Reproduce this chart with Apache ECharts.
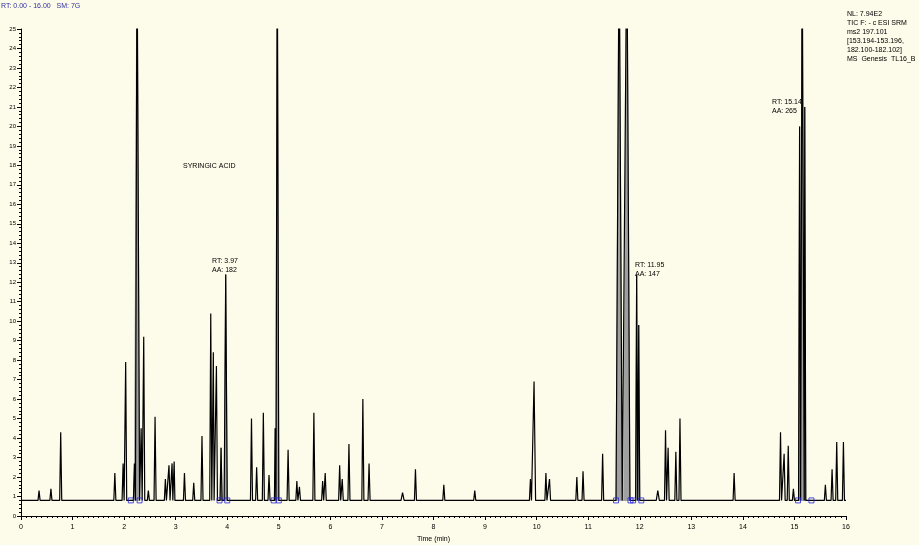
<!DOCTYPE html><html><head><meta charset="utf-8">
<script src="https://cdn.jsdelivr.net/npm/echarts@6/dist/echarts.min.js"></script>
<style>html,body{margin:0;background:#fdfbe9}#c{width:919px;height:545px}</style></head><body><div id="c"></div>
<script>
const baseline = 0.8;
// peak apex: [time (min), relative abundance, half-width (min)]
const peaks = [
[0.35,1.3,0.02],[0.58,1.4,0.02],[0.77,4.3,0.02],[1.82,2.2,0.02],[1.98,2.7,0.02],[2.03,7.9,0.02],
[2.2,2.7,0.02],[2.25,30,0.05],[2.33,4.5,0.02],[2.38,9.2,0.02],[2.47,1.3,0.02],[2.6,5.1,0.02],
[2.8,1.9,0.02],[2.87,2.6,0.02],[2.93,2.7,0.015],[2.97,2.8,0.015],[3.17,2.2,0.02],[3.35,1.7,0.02],
[3.51,4.1,0.02],[3.68,10.4,0.02],[3.73,8.4,0.015],[3.79,7.7,0.02],[3.88,3.5,0.02],[3.97,12.4,0.03],
[4.47,5.0,0.02],[4.57,2.5,0.02],[4.7,5.3,0.02],[4.81,2.1,0.02],[4.93,4.5,0.015],[4.97,30,0.03],
[5.18,3.4,0.02],[5.35,1.8,0.02],[5.4,1.5,0.02],[5.68,5.3,0.02],[5.85,1.8,0.02],[5.9,2.2,0.02],
[6.18,2.6,0.02],[6.23,1.9,0.02],[6.36,3.7,0.02],[6.63,6.0,0.02],[6.75,2.7,0.02],[7.4,1.2,0.03],
[7.65,2.4,0.02],[8.2,1.6,0.02],[8.8,1.3,0.02],[9.88,1.9,0.02],[9.95,6.9,0.03],[10.18,2.2,0.02],
[10.25,1.9,0.02],[10.78,2.0,0.02],[10.9,2.3,0.02],[11.28,3.2,0.02],[11.6,30,0.06],
[11.75,30,0.06],[11.94,12.4,0.02],[11.98,9.8,0.02],[12.35,1.3,0.03],[12.5,4.4,0.02],[12.55,3.5,0.02],
[12.7,3.3,0.02],[12.78,5.0,0.02],[13.83,2.2,0.02],[14.73,4.3,0.02],[14.8,3.2,0.02],[14.88,3.6,0.02],
[14.98,1.4,0.02],[15.1,20.0,0.02],[15.15,30,0.04],[15.2,21.0,0.02],[15.6,1.6,0.02],[15.73,2.4,0.02],
[15.82,3.8,0.02],[15.95,3.8,0.02]
];
// integrated (shaded) windows [start, end]
const integrated = [[2.13,2.3],[3.85,4.0],[4.9,5.0],[11.54,11.82],[11.87,12.03],[15.07,15.33]];
const xTicks = [0,1,2,3,4,5,6,7,8,9,10,11,12,13,14,15,16];

function peakPts(list){
  const pts=[];
  list.forEach(p=>{pts.push([p[0]-p[2],baseline]);pts.push([p[0],p[1]]);pts.push([p[0]+p[2],baseline]);});
  return pts;
}
const sorted = peaks.slice().sort((a,b)=>a[0]-b[0]);
const trace = [[0,baseline]].concat(peakPts(sorted)).concat([[16,baseline]]);
const shadedPolys = integrated.map(w=>{
  const inW = sorted.filter(p=>p[0]>=w[0]&&p[0]<=w[1]);
  return [[w[0],baseline]].concat(peakPts(inW)).concat([[w[1],baseline]]);
});
const markers=[];integrated.forEach(w=>{markers.push([w[0],baseline]);markers.push([w[1],baseline]);});

const chart = echarts.init(document.getElementById('c'));
const tf='Liberation Sans';
chart.setOption({
  backgroundColor:'#fdfbe9',
  animation:false,
  grid:{left:21,right:73,top:29,bottom:29,outerBoundsMode:'none',containLabel:false},
  xAxis:{type:'value',min:0,max:16,interval:1,
    axisLine:{lineStyle:{color:'#000'}},axisTick:{lineStyle:{color:'#000'},length:4},
    minorTick:{show:true,splitNumber:10,length:2,lineStyle:{color:'#000'}},
    splitLine:{show:false},axisLabel:{fontSize:7,color:'#000',fontFamily:tf,
      formatter:v=>xTicks.includes(v)?String(v):''},
    name:'Time (min)',nameLocation:'middle',nameGap:18,nameTextStyle:{fontSize:7,color:'#000',fontFamily:tf}},
  yAxis:{type:'value',min:0,max:25,interval:1,
    axisLine:{show:true,lineStyle:{color:'#000'}},axisTick:{show:true,lineStyle:{color:'#000'},length:4},
    minorTick:{show:true,splitNumber:5,length:2,lineStyle:{color:'#000'}},
    splitLine:{show:false},axisLabel:{fontSize:6,color:'#000',fontFamily:tf,margin:5},
    name:'Relative Abundance',nameLocation:'middle',nameGap:13,nameTextStyle:{fontSize:6,color:'#000',fontFamily:tf}},
  series:[
    {type:'custom',data:integrated.map(w=>[w[0],baseline]),encode:{x:0,y:1},z:1,silent:true,clip:true,
      renderItem:(params,api)=>{
        const poly=shadedPolys[params.dataIndex].map(pt=>api.coord(pt));
        return {type:'polygon',shape:{points:poly},style:{fill:'#a0a0a0',stroke:'#a0a0a0'}};
      }},
    {type:'line',data:trace,symbol:'none',lineStyle:{color:'#000',width:1.2},z:3,clip:true},
    {type:'scatter',data:markers,symbol:'rect',symbolSize:5,itemStyle:{color:'none',borderColor:'#2222dd',borderWidth:1},z:4}
  ],
  graphic:[
    {type:'text',left:1,top:3,style:{text:'RT: 0.00 - 16.00   SM: 7G',fontSize:7,fill:'#3030a0',fontFamily:tf}},
    {type:'text',left:847,top:10,style:{text:'NL: 7.94E2\nTIC F: - c ESI SRM\nms2 197.101\n[153.194-153.196,\n182.100-182.102]\nMS  Genesis  TL16_B',fontSize:7,lineHeight:9,fill:'#000',fontFamily:tf}},
    {type:'text',left:183,top:163,style:{text:'SYRINGIC ACID',fontSize:7,fill:'#000',fontFamily:tf}},
    {type:'text',left:212,top:257,style:{text:'RT: 3.97\nAA: 182',fontSize:7,lineHeight:9,fill:'#000',fontFamily:tf}},
    {type:'text',left:635,top:261,style:{text:'RT: 11.95\nAA: 147',fontSize:7,lineHeight:9,fill:'#000',fontFamily:tf}},
    {type:'text',left:772,top:98,style:{text:'RT: 15.14\nAA: 265',fontSize:7,lineHeight:9,fill:'#000',fontFamily:tf}}
  ]
});
</script></body></html>
